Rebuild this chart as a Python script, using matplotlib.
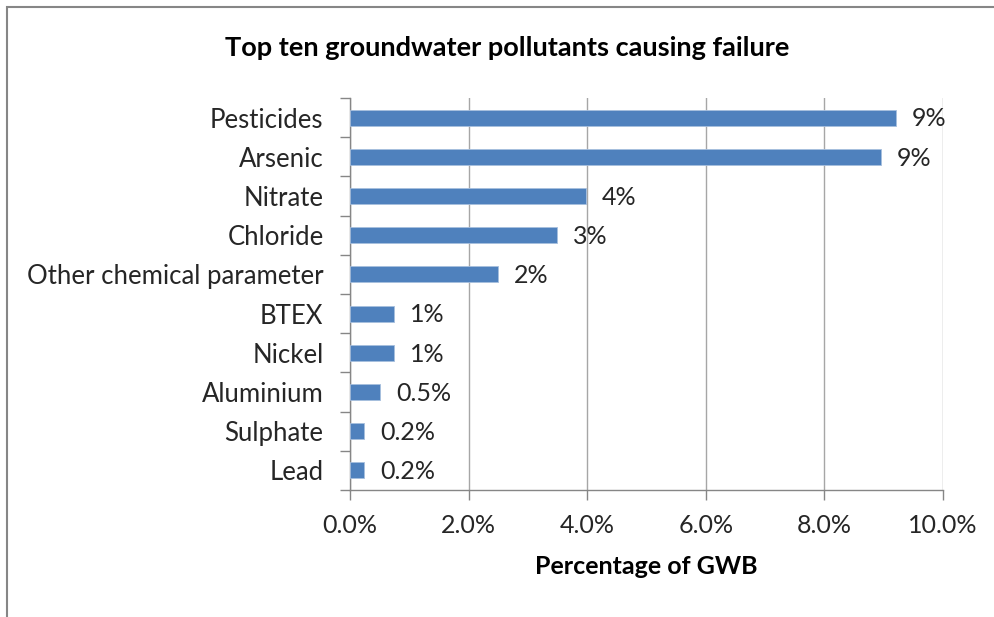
import matplotlib.pyplot as plt
from matplotlib.patches import Rectangle

# pollutants, top to bottom
pollutants = ['Pesticides', 'Arsenic', 'Nitrate', 'Chloride',
              'Other chemical parameter', 'BTEX', 'Nickel', 'Aluminium',
              'Sulphate', 'Lead']
share = [9.2, 8.95, 3.98, 3.49, 2.49, 0.75, 0.75, 0.51, 0.24, 0.24]
share_labels = ['9%', '9%', '4%', '3%', '2%', '1%', '1%', '0.5%', '0.2%', '0.2%']
xticks = [0, 2, 4, 6, 8, 10]

plt.rcParams['font.family'] = ['Lato', 'DejaVu Sans']

W, H = 995, 617
fig = plt.figure(figsize=(W / 100, H / 100), dpi=100)

# chart border (only left and top edges are inside the image)
fig.patches.append(Rectangle((7 / W, -0.1), 1.2, 1 - 7 / H + 0.1,
                             transform=fig.transFigure, fill=False,
                             edgecolor='#868686', linewidth=1.5))

ax = fig.add_axes([350 / W, 1 - 490 / H, (943 - 350) / W, (490 - 98) / H])

pos = list(range(len(pollutants)))
ax.barh(pos, share, height=0.41, color='#4f81bd', edgecolor='#a7bfde',
        linewidth=0.6, zorder=3)
for p, v, lab in zip(pos, share, share_labels):
    ax.annotate(lab, (v, p), xytext=(11.5, -1), textcoords='offset points',
                ha='left', va='center', fontsize=18, color='#262626',
                zorder=4)

ax.set_ylim(len(pollutants) - 0.5, -0.5)
ax.set_xlim(0, 10)
ax.set_yticks(pos)
ax.set_yticklabels(pollutants)
ax.set_xticks(xticks)
ax.set_xticklabels([f'{t:.1f}%' for t in xticks])

# category ticks sit between the bars
ax.set_yticks([p - 0.5 for p in pos] + [len(pos) - 0.5], minor=True)
ax.tick_params(axis='y', which='major', length=0, pad=19,
               labelsize=18.5, labelcolor='#262626')
ax.tick_params(axis='y', which='minor', length=7, color='#868686', width=1)
ax.tick_params(axis='x', length=7, color='#868686', width=1, pad=10,
               labelsize=18, labelcolor='#262626')

ax.grid(axis='x', color='#a6a6a6', linewidth=1, zorder=0)
for s in ['top', 'right']:
    ax.spines[s].set_visible(False)
for s in ['left', 'bottom']:
    ax.spines[s].set_color('#868686')
    ax.spines[s].set_linewidth(1)

ax.set_xlabel('Percentage of GWB', fontsize=18, fontweight='bold',
              labelpad=13)
fig.text(507 / W, 1 - 48 / H, 'Top ten groundwater pollutants causing failure',
         ha='center', va='center', fontsize=19.5, fontweight='bold')

fig.savefig('out.png', dpi=100)
